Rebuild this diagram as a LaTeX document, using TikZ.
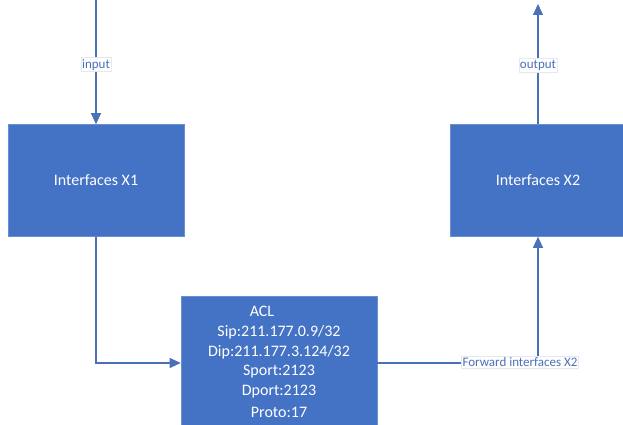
\documentclass[tikz,border=0pt]{standalone}
\usepackage{fontspec}
\setmainfont{Carlito}
\usetikzlibrary{arrows.meta}
\definecolor{boxblue}{HTML}{4472C4}
\definecolor{boxedge}{HTML}{6A8FD0}
\definecolor{lineblue}{HTML}{4A70B8}
\definecolor{tagedge}{HTML}{E4E8F0}
\begin{document}
\begin{tikzpicture}[x=1pt,y=-1pt,
  block/.style={rectangle, fill=boxblue, draw=boxedge, line width=0.6pt,
    text=white, font=\fontsize{16}{19.5}\selectfont, inner sep=0pt},
  boxtext/.style={text=white, font=\fontsize{16}{19.5}\selectfont, inner sep=0pt},
  link/.style={draw=lineblue, line width=1.1pt},
  flow/.style={link, -{Triangle[length=11pt,width=10pt]}},
  tag/.style={fill=white, draw=tagedge, line width=0.4pt, text=lineblue,
    font=\fontsize{13}{15}\selectfont, inner xsep=1pt, inner ysep=1.5pt}]
  \clip (0,0) rectangle (623,425);
  \useasboundingbox (0,0) rectangle (623,425);

  % interface blocks
  \node[block, minimum width=176pt, minimum height=112pt] (x1) at (96,180.5) {Interfaces X1};
  \node[block, minimum width=176pt, minimum height=112pt] (x2) at (538,180.5) {Interfaces X2};

  % ACL block (runs off the bottom edge)
  \node[block, minimum width=196pt, minimum height=134pt] (acl) at (279,363) {};
  \node[boxtext] (t0) at (262,311) {ACL};
  \node[boxtext] (t1) at (279,332) {Sip:211.177.0.9/32};
  \node[boxtext] (t2) at (279,352) {Dip:211.177.3.124/32};
  \node[boxtext] (t3) at (279,372) {Sport:2123};
  \node[boxtext] (t4) at (279,392) {Dport:2123};
  \node[boxtext] (t5) at (279,412) {Proto:17};

  % free ends of the input and output arrows
  \coordinate (in) at (96,0);
  \coordinate (out) at (538,4);

  % connectors
  \draw[flow] (in) -- node[tag, pos=0.52] (lin) {input} (x1.north);
  \draw[flow] (x2.north) -- node[tag, pos=0.49] (lout) {output} (out);
  \draw[flow] (x1.south) |- (acl.west);
  \draw[flow] (acl.east) -| (x2.south);
  \node[tag] (lfwd) at (520,362) {Forward interfaces X2};
\end{tikzpicture}
\end{document}
